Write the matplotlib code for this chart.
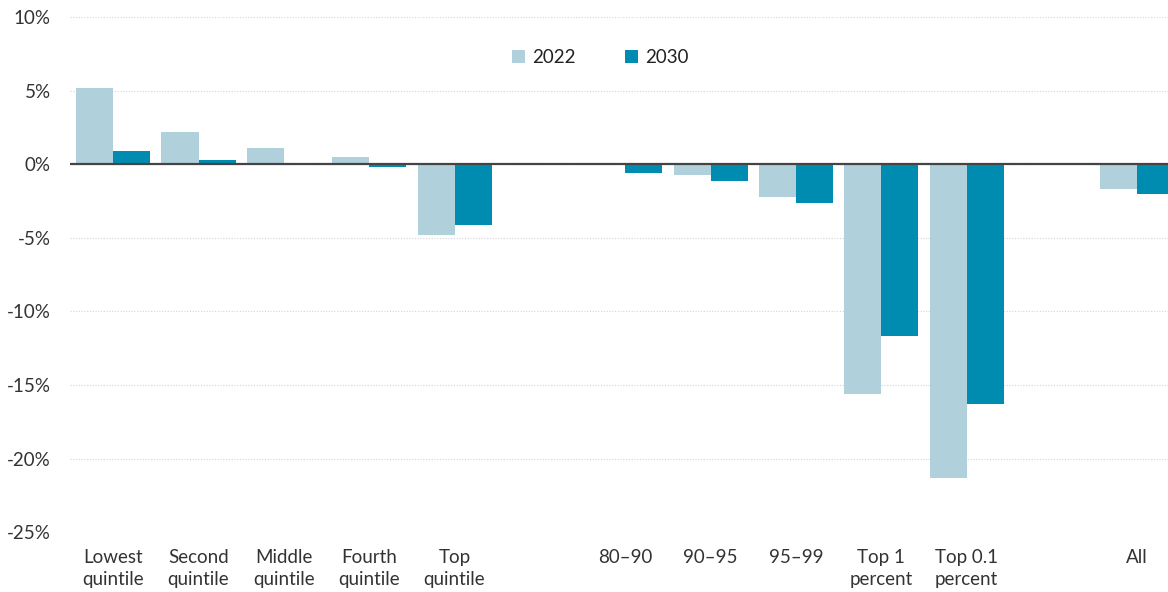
import matplotlib
matplotlib.use("Agg")
import matplotlib.pyplot as plt
import numpy as np

categories = ["Lowest\nquintile", "Second\nquintile", "Middle\nquintile", "Fourth\nquintile",
              "Top\nquintile", "", "80–90", "90–95", "95–99", "Top 1\npercent",
              "Top 0.1\npercent", "", "All"]
values_2022 = [5.2, 2.2, 1.1, 0.5, -4.8, np.nan, 0.0, -0.7, -2.2, -15.6, -21.3, np.nan, -1.7]
values_2030 = [0.9, 0.3, 0.0, -0.2, -4.1, np.nan, -0.6, -1.1, -2.6, -11.7, -16.3, np.nan, -2.0]
series_names = ["2022", "2030"]
yticks = [10, 5, 0, -5, -10, -15, -20, -25]
ytick_labels = ["10%", "5%", "0%", "-5%", "-10%", "-15%", "-20%", "-25%"]

c_light = "#B0D0DB"
c_dark = "#008BB0"

plt.rcParams['font.family'] = ['Lato', 'DejaVu Sans']

fig = plt.figure(figsize=(11.68, 5.92), dpi=100)
ax = fig.add_axes([0.06, 0.101, 0.94, 0.870])

x = np.arange(len(categories))
w = 0.434
ax.bar(x - w/2, values_2022, width=w, color=c_light, label=series_names[0], zorder=2)
ax.bar(x + w/2, values_2030, width=w, color=c_dark, label=series_names[1], zorder=2)

ax.set_ylim(-25, 10)
ax.set_xlim(-0.505, 12.36)
ax.set_yticks(yticks)
ax.set_yticklabels(ytick_labels, fontsize=13.5)
ax.set_xticks(x)
ax.set_xticklabels(categories, fontsize=13.5, linespacing=1.4)
ax.tick_params(axis='both', length=0, labelcolor="#333333")
ax.tick_params(axis='y', pad=14)
ax.tick_params(axis='x', pad=12)

for s in ax.spines.values():
    s.set_visible(False)
ax.grid(axis='y', color="#d4d4d4", linestyle=(0, (1, 1.5)), linewidth=0.8, zorder=0)
ax.axhline(0, color="#444444", linewidth=1.6, zorder=3)

leg = ax.legend(loc="upper center", bbox_to_anchor=(0.483, 0.97), ncol=2, frameon=False,
                fontsize=13.5, handlelength=0.7, handleheight=0.7, handletextpad=0.4,
                columnspacing=2.6)
for t in leg.get_texts():
    t.set_color("#222222")

fig.savefig("out.png", dpi=100, facecolor="white")
